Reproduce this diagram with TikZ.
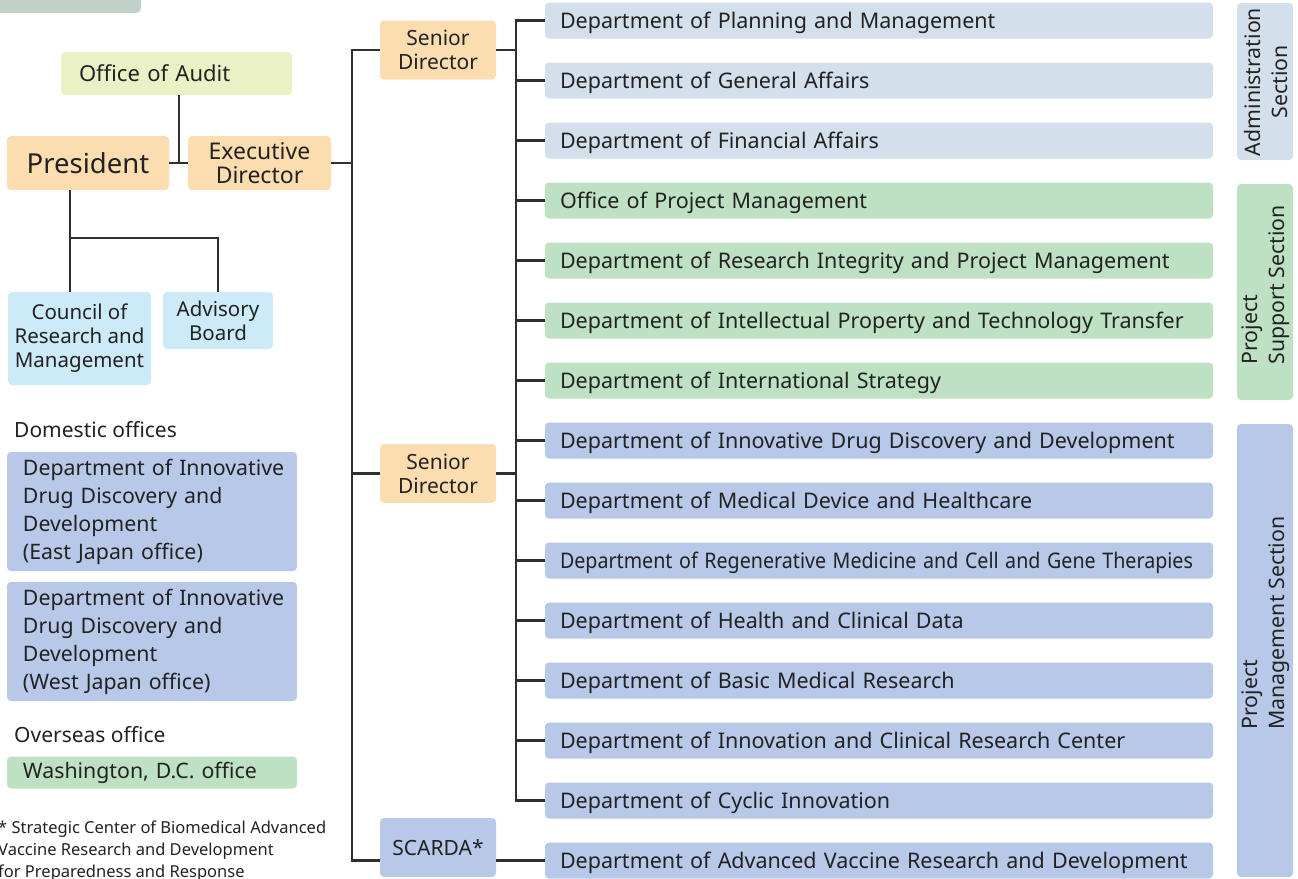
\documentclass[tikz,border=0pt]{standalone}
\usepackage{fontspec}
\setmainfont{Noto Sans}
\usetikzlibrary{calc}
\definecolor{orng}{HTML}{FCDDB0}
\definecolor{audit}{HTML}{EAF2C5}
\definecolor{lblue}{HTML}{CDEAF8}
\definecolor{admin}{HTML}{D3DFEA}
\definecolor{grn}{HTML}{BFE1C3}
\definecolor{peri}{HTML}{B8C8E8}
\definecolor{topgray}{HTML}{C2D0CA}
\definecolor{ln}{HTML}{2F2F2F}
\definecolor{txt}{HTML}{222222}
\newcommand{\fs}[2]{\fontsize{#1}{#2}\selectfont}
\begin{document}
\begin{tikzpicture}[x=1pt,y=-1pt,
  box/.style={rounded corners=4pt, inner sep=0pt, align=center, text=txt},
  obox/.style={box, fill=orng, font=\fs{21}{24}},
  dept/.style={box, minimum width=668, minimum height=36, inner xsep=15pt, inner ysep=0pt, text width=638pt, align=left, text height=18pt, text depth=2pt, font=\fs{21.5}{25}},
  adm/.style={dept, fill=admin},
  sup/.style={dept, fill=grn},
  mgt/.style={dept, fill=peri},
  secbox/.style={box, minimum width=56},
  sectxt/.style={rotate=90, inner sep=0pt, text=txt, font=\fs{21.3}{27}},
  office/.style={box, minimum width=290, inner xsep=16pt, text width=258pt, align=left, font=\fs{21.3}{28}},
  conn/.style={draw=ln, line width=2.2pt},
  plain/.style={inner sep=0pt, text=txt}
]
\useasboundingbox (0,0) rectangle (1298,878);
\fill[topgray, rounded corners=5pt] (-10,-10) rectangle (141,13);

% top left
\node[box, fill=audit, minimum width=231, minimum height=43, inner xsep=18pt, text width=195pt, align=left, font=\fs{22}{24}] (audit) at (176.5,73.5) {Office of Audit};
\node[box, fill=orng, minimum width=162, minimum height=54, font=\fs{27.5}{30}] (pres) at (88,163) {President};
\node[box, fill=orng, minimum width=143, minimum height=54, font=\fs{23}{24}] (exec) at (259.5,163) {Executive\\Director};
\node[box, fill=lblue, minimum width=143, minimum height=93, font=\fs{20.5}{24}] (council) at (79.5,338.5) {Council of\\Research and\\Management};
\node[box, fill=lblue, minimum width=110, minimum height=57, font=\fs{20.5}{24}] (advisory) at (218,320.5) {Advisory\\Board};

% directors
\node[obox, minimum width=116, minimum height=59] (sd1) at (438,50) {Senior\\Director};
\node[obox, minimum width=116, minimum height=59] (sd2) at (438,473.5) {Senior\\Director};
\node[box, fill=peri, minimum width=116, minimum height=59, font=\fs{21}{24}] (scarda) at (438,847.5) {SCARDA*};

% departments
\node[adm] (d1) at (879,20.5) {Department of Planning and Management};
\node[adm] (d2) at (879,80.5) {Department of General Affairs};
\node[adm] (d3) at (879,140.5) {Department of Financial Affairs};
\node[sup] (d4) at (879,200.5) {Office of Project Management};
\node[sup] (d5) at (879,260.5) {Department of Research Integrity and Project Management};
\node[sup] (d6) at (879,320.5) {Department of Intellectual Property and Technology Transfer};
\node[sup] (d7) at (879,380.5) {Department of International Strategy};
\node[mgt] (d8) at (879,440.5) {Department of Innovative Drug Discovery and Development};
\node[mgt] (d9) at (879,500.5) {Department of Medical Device and Healthcare};
\node[mgt] (d10) at (879,560.5) {\scalebox{0.915}[1]{Department of Regenerative Medicine and Cell and Gene Therapies}};
\node[mgt] (d11) at (879,620.5) {Department of Health and Clinical Data};
\node[mgt] (d12) at (879,680.5) {Department of Basic Medical Research};
\node[mgt] (d13) at (879,740.5) {Department of Innovation and Clinical Research Center};
\node[mgt] (d14) at (879,800.5) {Department of Cyclic Innovation};
\node[mgt] (d15) at (879,860.5) {Department of Advanced Vaccine Research and Development};

% sections
\node[secbox, fill=admin, minimum height=157] (sec1) at (1265,81.5) {};
\node[secbox, fill=grn, minimum height=216] (sec2) at (1265,292) {};
\node[secbox, fill=peri, minimum height=453] (sec3) at (1265,650.5) {};
\node[sectxt, align=center] (sec1t) at (1266,82) {Administration\\Section};
\node[sectxt, align=left] (sec2t) at (1266,285) {Project\\Support Section};
\node[sectxt, align=left] (sec3t) at (1266,623) {Project\\Management Section};

% offices
\node[plain, anchor=west, font=\fs{21}{24}] (domt) at (14,430) {Domestic offices};
\node[office, fill=peri, minimum height=119] (east) at (152,511.5) {\mbox{Department of Innovative}\\\mbox{Drug Discovery and}\\Development\\\mbox{(East Japan office)}};
\node[office, fill=peri, minimum height=119] (west) at (152,641.5) {\mbox{Department of Innovative}\\\mbox{Drug Discovery and}\\Development\\\mbox{(West Japan office)}};
\node[plain, anchor=west, font=\fs{21}{24}] (overt) at (14,735) {Overseas office};
\node[office, fill=grn, minimum height=32] (wash) at (152,772.5) {\mbox{Washington, D.C. office}};
\node[plain, anchor=north west, align=left, font=\fs{16.5}{22}] (note) at (-2,820.5) {* Strategic Center of Biomedical Advanced\\Vaccine Research and Development\\for Preparedness and Response};

% connectors
\draw[conn] (pres.east) -- (exec.west);
\draw[conn] ([xshift=2.5]audit.south) -- ([xshift=2.5]audit.south |- pres.east);
\coordinate (tr) at (352,0);
\coordinate (br) at (516,0);
\coordinate (pv) at (70,0);
\coordinate (j) at (70,238);
\draw[conn] (exec.east) -- (tr |- exec.east);
\draw[conn] (sd1.west) -- (tr |- sd1.west) -- (tr |- d15.west) -- (scarda.west |- d15.west);
\draw[conn] (sd2.west) -- (tr |- sd2.west);
\draw[conn] (d1.west) -- (br |- d1.west) -- (br |- d14.west) -- (d14.west);
\foreach \i in {2,...,13} \draw[conn] (br |- d\i.west) -- (d\i.west);
\draw[conn] (sd1.east) -- (br |- sd1.east);
\draw[conn] (sd2.east) -- (br |- sd2.east);
\draw[conn] (scarda.east |- d15.west) -- (d15.west);
\draw[conn] (pv |- pres.south) -- (pv |- council.north);
\draw[conn] (j) -| (advisory.north);
\end{tikzpicture}
\end{document}
